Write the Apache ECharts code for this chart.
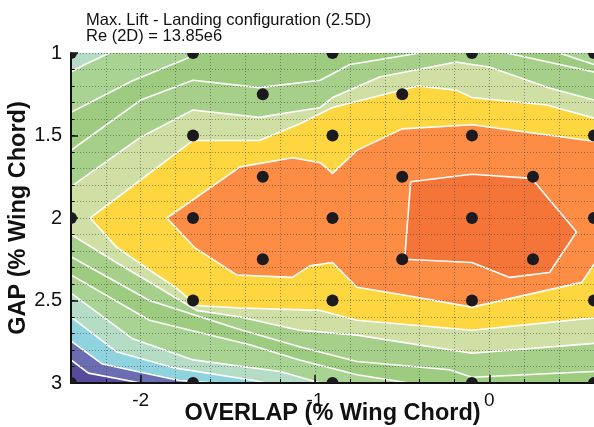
<!DOCTYPE html>
<html>
<head>
<meta charset="utf-8">
<script src="https://cdn.jsdelivr.net/npm/echarts@6/dist/echarts.min.js"></script>
<style>
  html, body { margin: 0; padding: 0; background: #ffffff; }
  #chart { width: 594px; height: 427px; }
</style>
</head>
<body>
<div id="chart"></div>
<script>
// Axis extents and labelled ticks
const overlapRange = [-2.4, 0.6];
const gapRange = [1, 3];
const overlapTicks = [-2, -1, 0];
const gapTicks = [1, 1.5, 2, 2.5, 3];

// Test points (overlap, gap)
const testOverlap = [-2.4, -1.7, -0.9, -0.1, 0.6,
                     -1.3, -0.5,
                     -1.7, -0.9, -0.1, 0.6,
                     -1.3, -0.5, 0.25,
                     -2.4, -1.7, -0.9, -0.1, 0.6,
                     -1.3, -0.5, 0.25,
                     -1.7, -0.9, -0.1, 0.6,
                     -2.4, -1.7, -0.9, -0.1, 0.6];
const testGap = [1, 1, 1, 1, 1,
                 1.25, 1.25,
                 1.5, 1.5, 1.5, 1.5,
                 1.75, 1.75, 1.75,
                 2, 2, 2, 2, 2,
                 2.25, 2.25, 2.25,
                 2.5, 2.5, 2.5, 2.5,
                 3, 3, 3, 3, 3];

// Iso-lines of max. lift, as [overlap, gap] vertices
const isoA = [[-2.40, 2.86], [-2.30, 2.94], [-2.00, 3.00]];
const isoB = [[-2.40, 2.745], [-2.22, 2.885], [-1.78, 2.985], [-1.57, 3.00]];
const isoC = [[-2.40, 2.60], [-2.14, 2.81], [-1.80, 2.91], [-1.35, 2.985], [-1.28, 3.00]];
const isoD = [[-2.40, 2.455], [-2.05, 2.73], [-1.70, 2.86], [-1.20, 2.93], [-0.97, 3.00]];
const isoDTop = [[-2.40, 1.115], [-2.32, 1.07], [-2.18, 1.00]];
const isoE = [[-2.40, 2.345], [-1.95, 2.62], [-1.37, 2.77], [-1.09, 2.86], [-0.76, 2.95], [-0.46, 3.00]];
const isoETop = [[-2.40, 1.36], [-2.05, 1.17], [-1.66, 1.00]];
const isoETopRight = [[0.40, 1.00], [0.60, 1.07]];
const isoF = [[-2.40, 2.235], [-1.95, 2.50], [-1.45, 2.67], [-1.09, 2.78], [-0.76, 2.87], [-0.23, 2.92], [-0.10, 2.965], [0.60, 2.93]];
const isoFTop = [[-2.40, 1.59], [-2.00, 1.285], [-1.70, 1.165], [-1.32, 1.21], [-0.97, 1.165], [-0.80, 1.07], [-0.40, 1.00]];
const isoFTopRight = [[0.10, 1.00], [0.60, 1.115]];
const isoG = [[-2.40, 2.10], [-2.14, 2.27], [-1.90, 2.42], [-1.68, 2.56], [-1.43, 2.60], [-1.09, 2.68], [-0.76, 2.71], [-0.10, 2.82], [0.60, 2.76]];
const isoGTop = [[-2.40, 1.81], [-2.00, 1.51], [-1.70, 1.345], [-1.32, 1.39], [-0.97, 1.33], [-0.90, 1.27], [-0.63, 1.145], [-0.19, 1.055], [-0.10, 1.07], [0.00, 1.085], [0.34, 1.21], [0.60, 1.285]];
const isoHTop = [[-2.29, 2.00], [-1.70, 1.53], [-1.32, 1.53], [-1.09, 1.43], [-0.90, 1.33], [-0.41, 1.20], [-0.19, 1.225], [-0.10, 1.27], [0.33, 1.315], [0.60, 1.395]];
const isoHBottom = [[-2.29, 2.00], [-2.14, 2.175], [-1.95, 2.315], [-1.80, 2.42], [-1.68, 2.53], [-1.43, 2.545], [-0.97, 2.56], [-0.76, 2.62], [-0.10, 2.68], [0.60, 2.605]];
const isoOTop = [[-1.85, 2.00], [-1.43, 1.69], [-1.13, 1.635], [-0.97, 1.665], [-0.90, 1.73], [-0.76, 1.59], [-0.50, 1.46], [-0.10, 1.435], [0.25, 1.485], [0.60, 1.535]];
const isoOBottom = [[-1.85, 2.00], [-1.69, 2.18], [-1.45, 2.345], [-1.13, 2.36], [-1.03, 2.29], [-0.90, 2.27], [-0.76, 2.42], [-0.50, 2.465], [-0.10, 2.54], [0.53, 2.39], [0.60, 2.28]];
const isoPeak = [[-0.452, 1.78], [-0.10, 1.735], [0.242, 1.76], [0.50, 2.085], [0.345, 2.33], [0.116, 2.36], [-0.10, 2.27], [-0.486, 2.25], [-0.452, 1.78]];

// Band colours, lowest to highest level
const bandColors = ['#574a9c', '#6b6db3', '#8ed3dd', '#b5dcc5', '#a9d393', '#9dcc80',
                    '#a6d08a', '#d0e0a5', '#fed63f', '#fd8c45', '#f47537'];

const TL = [overlapRange[0], gapRange[0]];
const TR = [overlapRange[1], gapRange[0]];
const BR = [overlapRange[1], gapRange[1]];
const BL = [overlapRange[0], gapRange[1]];
const rev = a => a.slice().reverse();

// Super-level regions (value above each iso-line), painted in rising order
const regions = [
  [TL, TR, BR, BL],
  [TL, TR, BR, ...rev(isoA)],
  [TL, TR, BR, ...rev(isoB)],
  [TL, TR, BR, ...rev(isoC)],
  [...isoDTop, TR, BR, ...rev(isoD)],
  [...isoETop, ...isoETopRight, BR, ...rev(isoE)],
  [...isoFTop, ...isoFTopRight, ...rev(isoF)],
  [...isoGTop, ...rev(isoG)],
  [...isoHTop, ...rev(isoHBottom)],
  [...isoOTop, ...rev(isoOBottom)],
  isoPeak
];
const isoLines = [isoA, isoB, isoC, isoD, isoDTop, isoE, isoETop, isoETopRight,
                  isoF, isoFTop, isoFTopRight, isoG, isoGTop, isoHTop, isoHBottom,
                  isoOTop, isoOBottom, isoPeak];

const chart = echarts.init(document.getElementById('chart'), null, { renderer: 'canvas' });

const fontFamily = '"Liberation Sans", Arial, Helvetica, sans-serif';
const gridLine = { show: true, lineStyle: { color: 'rgba(70,70,70,0.55)', width: 1, type: [1, 2] } };

chart.setOption({
  animation: false,
  backgroundColor: '#ffffff',
  grid: { left: 71, top: 53, width: 523.5, height: 330, containLabel: false },
  xAxis: [
    {
      type: 'value', min: overlapRange[0], max: overlapRange[1], position: 'bottom', z: 3,
      axisLine: { show: true, onZero: false, lineStyle: { color: '#111', width: 2 } },
      axisTick: { show: true, inside: true, length: 8, customValues: overlapTicks, lineStyle: { color: '#111', width: 1.5 } },
      axisLabel: { show: true, customValues: overlapTicks, margin: 8, fontSize: 19, color: '#111', fontFamily,
                   formatter: v => String(v) },
      splitLine: { show: false }
    },
    {
      type: 'value', min: overlapRange[0], max: overlapRange[1], interval: 0.2, position: 'bottom', z: 3,
      axisLine: { show: false, onZero: false },
      axisTick: { show: true, inside: true, length: 4, lineStyle: { color: '#111', width: 1 } },
      axisLabel: { show: false },
      splitLine: gridLine
    }
  ],
  yAxis: [
    {
      type: 'value', inverse: true, min: gapRange[0], max: gapRange[1], interval: 0.5, position: 'left', z: 3,
      axisLine: { show: true, onZero: false, lineStyle: { color: '#111', width: 2 } },
      axisTick: { show: true, inside: true, length: 7, lineStyle: { color: '#111', width: 1.5 } },
      axisLabel: { show: true, margin: 9, fontSize: 20, color: '#111', fontFamily,
                   formatter: v => String(v) },
      splitLine: { show: false }
    },
    {
      type: 'value', inverse: true, min: gapRange[0], max: gapRange[1], interval: 0.1, position: 'left', z: 3,
      axisLine: { show: false, onZero: false },
      axisTick: { show: true, inside: true, length: 3.5, lineStyle: { color: '#111', width: 1 } },
      axisLabel: { show: false },
      splitLine: gridLine
    }
  ],
  graphic: [
    { type: 'text', left: 86, top: 12, z: 10,
      style: { text: 'Max. Lift - Landing configuration (2.5D)\nRe (2D) = 13.85e6', fontSize: 16.5, lineHeight: 15.5,
               fill: '#111', fontFamily } },
    { type: 'text', x: 332.5, y: 414, z: 10,
      style: { text: 'OVERLAP (% Wing Chord)', fontSize: 23.5, fontWeight: 'bold', fill: '#111', fontFamily,
               align: 'center', verticalAlign: 'middle' } },
    { type: 'text', x: 19, y: 218, rotation: Math.PI / 2, z: 10,
      style: { text: 'GAP (% Wing Chord)', fontSize: 23.5, fontWeight: 'bold', fill: '#111', fontFamily,
               align: 'center', verticalAlign: 'middle' } }
  ],
  series: [
    {
      type: 'custom', name: 'bands', xAxisIndex: 0, yAxisIndex: 0, z: 1, clip: true, silent: true,
      data: regions.map(r => r[0]),
      renderItem: (params, api) => ({
        type: 'polygon',
        shape: { points: regions[params.dataIndex].map(p => api.coord(p)) },
        style: { fill: bandColors[params.dataIndex], stroke: null }
      })
    },
    {
      type: 'custom', name: 'isolines', xAxisIndex: 0, yAxisIndex: 0, z: 2, clip: true, silent: true,
      data: isoLines.map(l => l[0]),
      renderItem: (params, api) => ({
        type: 'polyline',
        shape: { points: isoLines[params.dataIndex].map(p => api.coord(p)) },
        style: { fill: null, stroke: '#ffffff', lineWidth: 1.6, lineJoin: 'round' }
      })
    },
    {
      type: 'custom', name: 'tests', xAxisIndex: 0, yAxisIndex: 0, z: 6, clip: true, silent: true,
      data: testOverlap.map((x, i) => [x, testGap[i]]),
      renderItem: (params, api) => {
        const c = api.coord([api.value(0), api.value(1)]);
        return { type: 'circle', shape: { cx: c[0], cy: c[1], r: 6 }, style: { fill: '#1b1b1f' } };
      }
    }
  ]
});
</script>
</body>
</html>
